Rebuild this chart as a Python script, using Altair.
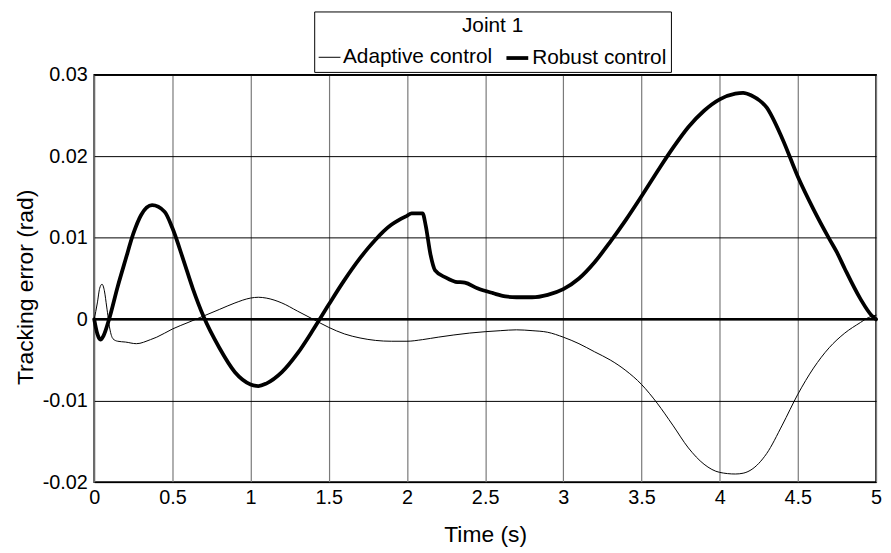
import altair as alt
import pandas as pd

# Time samples (s) and tracking errors (rad)
t_adaptive = [0.0, 0.02, 0.035, 0.05, 0.065, 0.08, 0.1, 0.12, 0.15, 0.2, 0.27, 0.36, 0.4, 0.5, 0.6,
              0.7, 0.8, 0.9, 1.0, 1.05, 1.1, 1.2, 1.3, 1.4, 1.5, 1.6, 1.7, 1.8, 1.9, 2.0,
              2.1, 2.2, 2.4, 2.6, 2.7, 2.8, 2.9, 3.0, 3.1, 3.2, 3.3, 3.4, 3.5, 3.6, 3.7,
              3.8, 3.9, 4.0, 4.1, 4.15, 4.2, 4.3, 4.4, 4.5, 4.6, 4.7, 4.8, 4.9, 4.95, 5.0]
e_adaptive = [0.0, 0.002, 0.0038, 0.0043, 0.0035, 0.0015, -0.0012, -0.0024, -0.0027, -0.0028, -0.003, -0.0025, -0.0022, -0.0012, -0.0004,
              0.0004, 0.0012, 0.002, 0.0026, 0.0027, 0.0026, 0.002, 0.001, 0.0, -0.001, -0.0018, -0.0023, -0.0026, -0.0027, -0.0027,
              -0.0025, -0.0022, -0.0017, -0.0014, -0.0013, -0.0014, -0.0016, -0.0022, -0.003, -0.004, -0.005, -0.0063, -0.008, -0.0103, -0.013,
              -0.0158, -0.0178, -0.0188, -0.019, -0.0189, -0.0185, -0.0165, -0.013, -0.0092, -0.006, -0.0035, -0.0017, -0.0004, 0.0002, 0.0005]

t_robust = [0.0, 0.02, 0.04, 0.06, 0.095, 0.15, 0.2, 0.25, 0.3, 0.37, 0.45, 0.5, 0.57, 0.63, 0.7,
            0.8, 0.9, 1.0, 1.05, 1.1, 1.2, 1.3, 1.4, 1.5, 1.6, 1.7, 1.75, 1.8, 1.85, 1.9, 1.95, 2.0,
            2.03, 2.1, 2.12, 2.15, 2.18, 2.25, 2.31, 2.37, 2.45, 2.55, 2.63, 2.7, 2.8, 2.9, 3.0,
            3.1, 3.2, 3.3, 3.4, 3.5, 3.6, 3.7, 3.8, 3.9, 4.0, 4.1, 4.15, 4.2, 4.3, 4.4,
            4.5, 4.6, 4.7, 4.75, 4.8, 4.9, 4.97, 5.0]
e_robust = [0.0, -0.0018, -0.0025, -0.002, 0.0, 0.004, 0.0073, 0.0105, 0.0128, 0.014, 0.0132, 0.0112, 0.0073, 0.0038, 0.0003,
            -0.0035, -0.0065, -0.008, -0.0082, -0.0079, -0.0065, -0.0042, -0.0013, 0.0018, 0.0048, 0.0075, 0.0087, 0.0098, 0.0108, 0.0116, 0.0122, 0.0127,
            0.013, 0.013, 0.0115, 0.008, 0.006, 0.0051, 0.0046, 0.0045, 0.0038, 0.0032, 0.0028, 0.0027, 0.0027, 0.003, 0.0037,
            0.005, 0.007, 0.0095, 0.0122, 0.0151, 0.0181, 0.021, 0.0236, 0.0256, 0.027, 0.0277, 0.0278, 0.0275, 0.026, 0.0222,
            0.0175, 0.0135, 0.0099, 0.0082, 0.0062, 0.0025, 0.0005, 0.0]

series_names = ["Adaptive control", "Robust control"]
x_ticks = [0, 0.5, 1, 1.5, 2, 2.5, 3, 3.5, 4, 4.5, 5]
y_ticks = [-0.02, -0.01, 0, 0.01, 0.02, 0.03]

# invisible trailing pad so the legend frame is as wide as the reference's
NBSP_PAD = "\u00a0" * 5
legend_labels = [series_names[0], series_names[1] + NBSP_PAD]

df = pd.concat([
    pd.DataFrame({"t": t_adaptive, "e": e_adaptive, "series": legend_labels[0]}),
    pd.DataFrame({"t": t_robust, "e": e_robust, "series": legend_labels[1]}),
])

FONT = "Liberation Sans"

x_enc = alt.X("t:Q", title="Time (s)",
              scale=alt.Scale(domain=[0, 5], nice=False, zero=False),
              axis=alt.Axis(values=x_ticks, labelExpr="'' + datum.value", labelFlush=False,
                            grid=True, gridColor="#7a7a7a", gridWidth=1.2,
                            domain=False, ticks=False, labelPadding=6, titlePadding=16,
                            labelFont=FONT, titleFont=FONT, labelFontSize=20, titleFontSize=23,
                            titleFontWeight="normal", labelColor="black", titleColor="black"))
y_enc = alt.Y("e:Q", title="Tracking error (rad)",
              scale=alt.Scale(domain=[-0.02, 0.03], nice=False),
              axis=alt.Axis(values=y_ticks, labelExpr="'' + datum.value",
                            grid=True, gridColor="#000000", gridWidth=1,
                            domain=False, ticks=False, labelPadding=7, titlePadding=5,
                            titleY=214,
                            labelFont=FONT, titleFont=FONT, labelFontSize=20, titleFontSize=23,
                            titleFontWeight="normal", labelColor="black", titleColor="black"))

lines = alt.Chart(df).mark_line(color="black", strokeJoin="round", strokeCap="round",
                                interpolate="monotone").encode(
    x=x_enc,
    y=y_enc,
    strokeWidth=alt.StrokeWidth(
        "series:N",
        scale=alt.Scale(type="ordinal", domain=legend_labels, range=[1, 3.8]),
        legend=alt.Legend(
            title="Joint 1", orient="none", legendX=222, legendY=-64,
            direction="horizontal", titleAnchor="middle",
            titleFontSize=21, titleFontWeight="normal", titleFont=FONT, titlePadding=9,
            labelFontSize=21, labelFont=FONT, labelOffset=2, labelLimit=300,
            symbolType="stroke", symbolSize=484, symbolStrokeColor="black",
            columnPadding=6, padding=4, strokeColor="black", fillColor="white",
        ),
    ),
    detail="series:N",
)

zero_line = alt.Chart(df).mark_rule(color="black", strokeWidth=1.6).encode(y=alt.datum(0))

chart = alt.layer(zero_line, lines).properties(
    width=789, height=411,
    background="white",
    autosize=alt.AutoSizeParams(type="none"),
    padding={"left": 87, "top": 65, "right": 7, "bottom": 69},
).configure_view(stroke="black", strokeWidth=1.6)

chart.save("out.html", embed_options={"renderer": "svg", "actions": False})
